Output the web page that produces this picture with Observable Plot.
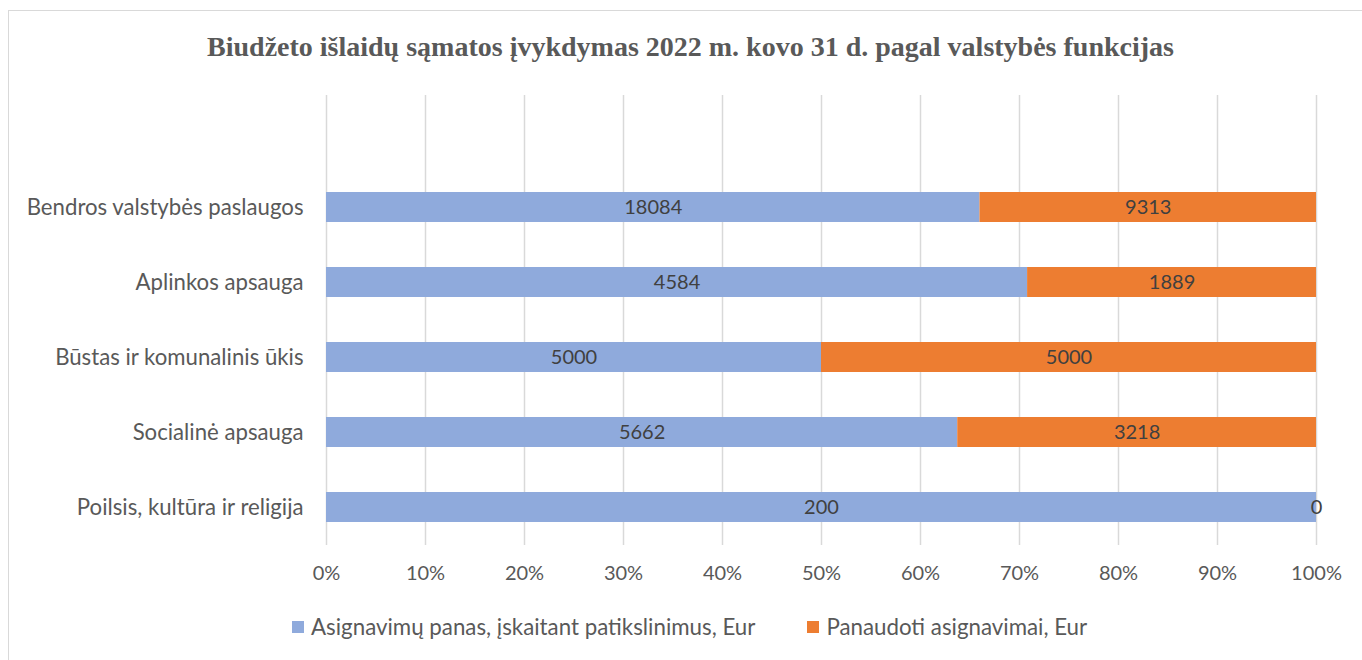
<!DOCTYPE html>
<html>
<head>
<meta charset="utf-8">
<script src="https://cdn.jsdelivr.net/npm/d3@7"></script>
<script src="https://cdn.jsdelivr.net/npm/@observablehq/plot@0.6"></script>
<style>
  html, body { margin: 0; padding: 0; background: #fff; overflow: hidden; }
  body { width: 1362px; height: 660px; position: relative; font-family: Lato, "Open Sans", sans-serif; }
  #frame { position: absolute; left: 8px; top: 10px; width: 1400px; height: 700px; border: 1.5px solid #d9d9d9; box-sizing: border-box; }
  #title { position: absolute; left: 0; top: 29px; width: 1381px; text-align: center; font-family: "Liberation Serif", "Times New Roman", serif; font-weight: bold; font-size: 28px; line-height: 36px; color: #595959; }
  #chart { position: absolute; left: 0; top: 80px; }
  #legend { position: absolute; top: 613px; left: 292px; display: flex; align-items: center; font-size: 22.3px; color: #595959; }
  .item { display: flex; align-items: center; }
  .sw { width: 12px; height: 12px; margin-right: 7px; }
</style>
</head>
<body>
<div id="frame"></div>
<div id="title"></div>
<div id="chart"></div>
<div id="legend"></div>
<script>
const title = "Biudžeto išlaidų sąmatos įvykdymas 2022 m. kovo 31 d. pagal valstybės funkcijas";
const categories = [
  "Bendros valstybės paslaugos",
  "Aplinkos apsauga",
  "Būstas ir komunalinis ūkis",
  "Socialinė apsauga",
  "Poilsis, kultūra ir religija"
];
const seriesNames = [
  "Asignavimų panas, įskaitant patikslinimus, Eur",
  "Panaudoti asignavimai, Eur"
];
const assigned = [18084, 4584, 5000, 5662, 200];
const used = [9313, 1889, 5000, 3218, 0];
const colors = ["#8faadc", "#ed7d31"];
const xTicks = [0, 0.1, 0.2, 0.3, 0.4, 0.5, 0.6, 0.7, 0.8, 0.9, 1];

document.getElementById("title").textContent = title;

const data = [];
categories.forEach((c, i) => {
  data.push({cat: c, series: seriesNames[0], value: assigned[i], order: 0});
  data.push({cat: c, series: seriesNames[1], value: used[i], order: 1});
});

const chart = Plot.plot({
  width: 1362,
  height: 530,
  marginLeft: 326,
  marginRight: 46,
  marginTop: 15,
  marginBottom: 65,
  style: {fontFamily: "Lato, 'Open Sans', sans-serif", fontSize: "20px", color: "#595959", background: "transparent"},
  x: {domain: [0, 1]},
  y: {domain: categories, range: [89.5, 464.5], paddingInner: 0.6, paddingOuter: 0.3},
  color: {domain: seriesNames, range: colors},
  marks: [
    Plot.gridX(xTicks, {stroke: "#d9d9d9", strokeOpacity: 1, strokeWidth: 1.5}),
    Plot.barX(data, Plot.stackX({offset: "normalize", order: "order", x: "value", y: "cat", fill: "series"})),
    Plot.text(data, Plot.stackX({offset: "normalize", order: "order", x: "value", y: "cat", text: d => String(d.value), fill: "#404040", fontSize: 20})),
    Plot.axisX(xTicks, {tickFormat: d => Math.round(d * 100) + "%", tickSize: 0, tickPadding: 20, fontSize: 20, fill: "#595959", label: null}),
    Plot.axisY(categories, {tickSize: 0, tickPadding: 23, fontSize: 22.2, fill: "#595959", label: null})
  ]
});
document.getElementById("chart").appendChild(chart);

const legend = document.getElementById("legend");
seriesNames.forEach((s, i) => {
  const it = document.createElement("div");
  it.className = "item";
  if (i > 0) it.style.marginLeft = "52px";
  const sw = document.createElement("div");
  sw.className = "sw";
  sw.style.background = colors[i];
  const tx = document.createElement("span");
  tx.textContent = s;
  it.appendChild(sw);
  it.appendChild(tx);
  legend.appendChild(it);
});
</script>
</body>
</html>
